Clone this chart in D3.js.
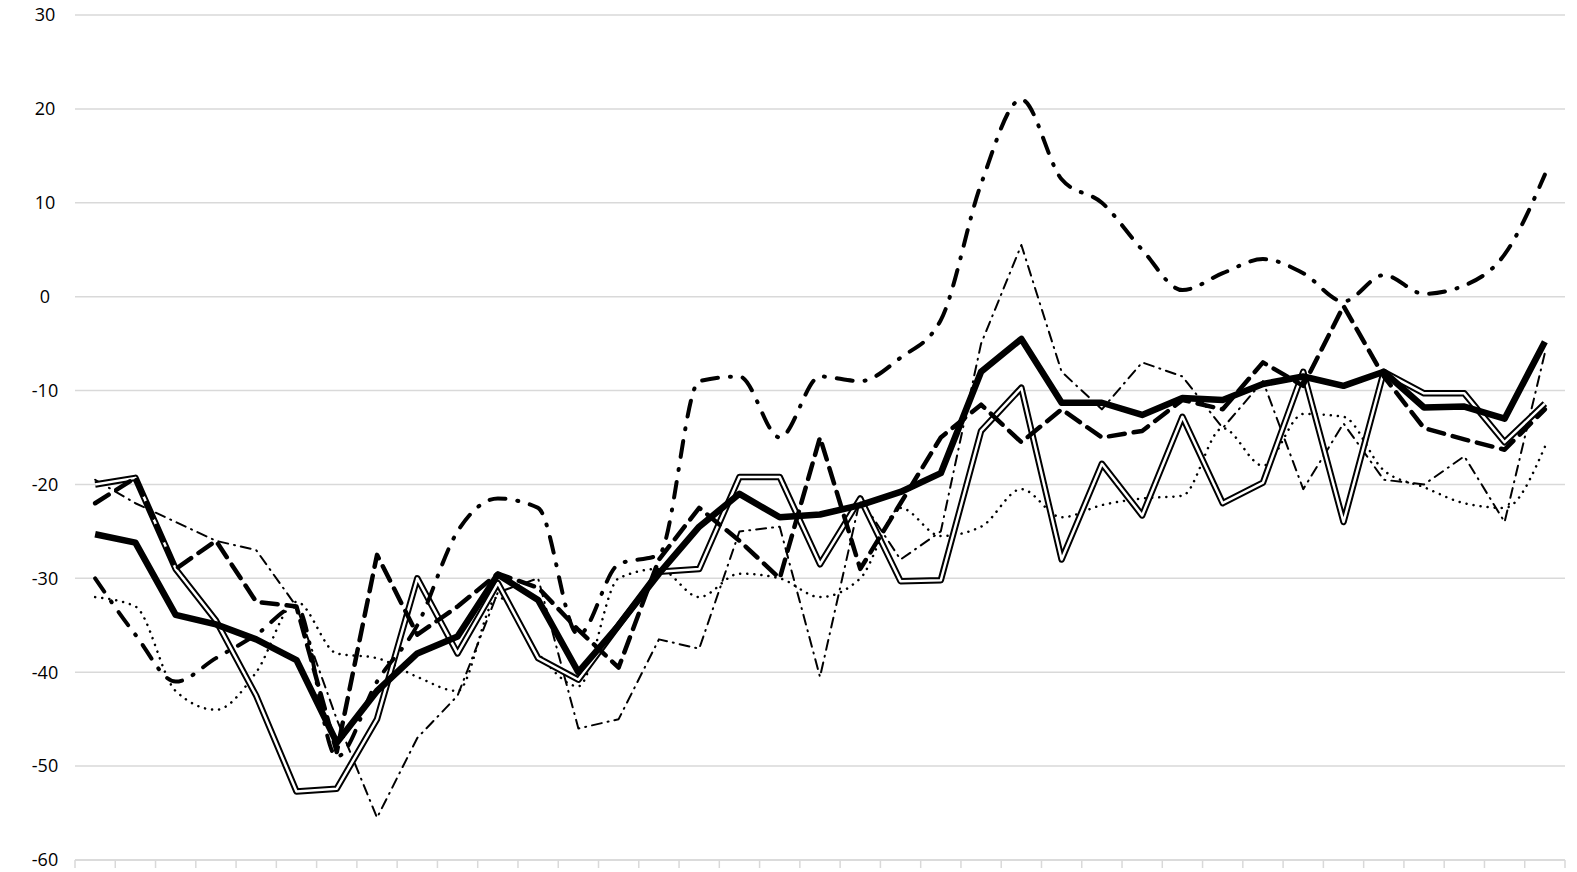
<!DOCTYPE html>
<html>
<head>
<meta charset="utf-8">
<script src="https://cdn.jsdelivr.net/npm/d3@7"></script>
<style>
  body { margin: 0; background: #fff; }
  svg text { font-family: "Open Sans", "Liberation Sans", sans-serif; font-size: 18px; fill: #000; }
</style>
</head>
<body>
<div id="chart"></div>
<script>
// y ticks
const yTicks = [-60, -50, -40, -30, -20, -10, 0, 10, 20, 30];

// series values, 37 periods each
const thickSolid = [-25.3, -26.2, -33.9, -34.9, -36.5, -38.7, -47.5, -42, -38, -36.2, -29.6, -32.3, -40, -35, -29.5, -24.5, -21, -23.5, -23.2, -22.2, -20.8, -18.8, -8, -4.5, -11.3, -11.3, -12.6, -10.8, -11, -9.3, -8.5, -9.5, -8, -11.8, -11.7, -13, -4.8];
const doubleLine = [-20, -19.3, -29, -34.5, -42.5, -52.7, -52.4, -45, -30, -38, -30.5, -38.5, -40.8, -35, -29.3, -29, -19.2, -19.2, -28.5, -21.5, -30.3, -30.2, -14.3, -9.7, -28, -17.8, -23.3, -12.8, -22, -19.8, -8, -24, -8, -10.3, -10.3, -15.5, -11.4];
const thickDash = [-22, -19.3, -29, -26, -32.5, -33, -48.5, -27.5, -36, -33, -29.5, -31, -35.5, -39.5, -28, -22.5, -26, -30, -15, -29, -22, -15, -11.5, -15.5, -12, -15, -14.3, -11, -12, -7, -9.5, -1, -8.5, -14, -15.2, -16.3, -12];
const thickDashDot = [-30, -36, -41, -38.5, -36, -33, -49, -41, -35, -25, -21.5, -22.5, -36, -28.5, -27.5, -9, -8.5, -15, -8.5, -9, -6.5, -2.5, 12, 21, 12.5, 10, 5, 0.7, 2.5, 4, 2.5, -0.5, 2.3, 0.3, 1.2, 4.5, 13];
const thinDashDot = [-19.5, -22, -24, -26, -27, -33, -45, -55.5, -47, -42.5, -31.5, -30, -46, -45, -36.5, -37.5, -25, -24.5, -40.5, -21.5, -28, -25, -5, 5.5, -8, -12, -7, -8.5, -14, -9, -20.5, -13.5, -19.5, -20, -17, -24, -6];
const dotted = [-32, -33, -42, -44, -40, -32.5, -38, -38.5, -40.5, -42, -32, -38, -41.5, -30, -29, -32, -29.5, -30, -32, -30, -22.5, -25.5, -24.5, -20.5, -23.5, -22.2, -21.5, -21.2, -14, -18, -12.5, -12.8, -18.5, -20.3, -22, -22.5, -16];

const periods = d3.range(thickSolid.length);

const width = 1577, height = 872;
const margin = { top: 15, right: 12, bottom: 12, left: 75 };
const innerW = width - margin.left - margin.right;
const innerH = height - margin.top - margin.bottom;

const svg = d3.select('#chart').append('svg').attr('width', width).attr('height', height);
const g = svg.append('g').attr('transform', `translate(${margin.left},${margin.top})`);

const x = d3.scaleBand().domain(periods).range([0, innerW]);
const y = d3.scaleLinear().domain([-60, 30]).range([innerH, 0]);
const cx = i => x(i) + x.bandwidth() / 2;

// gridlines
g.selectAll('line.grid').data(yTicks).join('line')
  .attr('x1', 0).attr('x2', innerW)
  .attr('y1', d => y(d)).attr('y2', d => y(d))
  .attr('stroke', '#d9d9d9').attr('stroke-width', 1.5);

// y labels
g.selectAll('text.yl').data(yTicks).join('text')
  .attr('x', -30).attr('y', d => y(d)).attr('dy', '0.35em')
  .attr('text-anchor', 'middle').text(d => d);

// x axis ticks
const xAxis = g.append('g').attr('transform', `translate(0,${innerH})`);
xAxis.append('line').attr('x1', 0).attr('x2', innerW).attr('stroke', '#d9d9d9').attr('stroke-width', 1.5);
xAxis.selectAll('line.tk').data(periods.concat([periods.length])).join('line')
  .attr('x1', d => d < periods.length ? x(d) : innerW).attr('x2', d => d < periods.length ? x(d) : innerW)
  .attr('y1', 0).attr('y2', 8).attr('stroke', '#d9d9d9').attr('stroke-width', 1.5);

const straight = d3.line().x((d, i) => cx(i)).y(d => y(d));
const smooth = d3.line().x((d, i) => cx(i)).y(d => y(d)).curve(d3.curveMonotoneX);

function draw(values, gen, opts) {
  g.append('path').datum(values).attr('d', gen)
    .attr('fill', 'none').attr('stroke', opts.color || '#000')
    .attr('stroke-width', opts.w).attr('stroke-dasharray', opts.dash || null)
    .attr('stroke-linecap', opts.cap || 'butt').attr('stroke-linejoin', 'round');
}

draw(dotted, smooth, { w: 2.5, dash: '0.1 7', cap: 'round' });
draw(thinDashDot, straight, { w: 2, dash: '10 6 1 6', cap: 'round' });
draw(doubleLine, straight, { w: 6.5 });
draw(doubleLine, straight, { w: 2.5, color: '#fff' });
draw(thickDashDot, smooth, { w: 4, dash: '16 12 1 12', cap: 'round' });
draw(thickDash, straight, { w: 4.5, dash: '16 9', cap: 'round' });
draw(thickSolid, straight, { w: 6.5 });
</script>
</body>
</html>
